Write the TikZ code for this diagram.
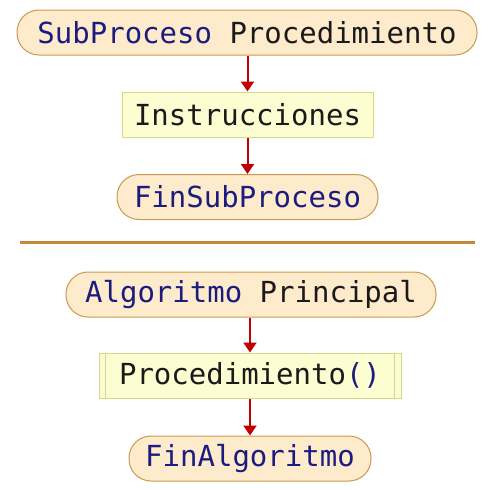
\documentclass[tikz,border=0pt]{standalone}
\usepackage{fontspec}
\setmonofont{DejaVu Sans Mono}
\usetikzlibrary{arrows.meta}
\definecolor{kw}{HTML}{1C1C80}
\definecolor{txt}{HTML}{1A1A1A}
\definecolor{capfill}{HTML}{FDEBCB}
\definecolor{capdraw}{HTML}{C99A52}
\definecolor{boxfill}{HTML}{FDFDD2}
\definecolor{boxdraw}{HTML}{D6D68E}
\definecolor{arr}{HTML}{C00000}
\definecolor{sep}{HTML}{C48A3A}
\tikzset{
  x=1pt,y=1pt,
  capsule/.style={draw=capdraw, fill=capfill, line width=1pt, rounded corners=22pt,
    minimum height=45pt, inner sep=0pt, font=\ttfamily\fontsize{29}{32}\selectfont, text=txt},
  instbox/.style={draw=boxdraw, fill=boxfill, line width=1pt,
    minimum height=45pt, inner sep=0pt, font=\ttfamily\fontsize{29}{32}\selectfont, text=txt},
  flow/.style={draw=arr, line width=2pt, -{Triangle[width=13pt,length=10pt]}},
}
\begin{document}
\begin{tikzpicture}
\useasboundingbox (0,0) rectangle (491,-490);
\node[capsule, minimum width=460pt] (sub) at (247,-32.5) {\textcolor{kw}{SubProceso} Procedimiento};
\node[instbox, minimum width=251pt] (ins) at (247.5,-114.5) {Instrucciones};
\node[capsule, minimum width=261pt] (finsub) at (247.5,-197) {\textcolor{kw}{FinSubProceso}};
\draw[flow] (sub.south -| ins.north) -- (ins.north);
\draw[flow] (ins.south) -- (finsub.north -| ins.south);
\coordinate (sl) at (20,-242.5);
\coordinate (sr) at (475,-242.5);
\draw[sep, line width=2.5pt] (sl) -- (sr);
\node[capsule, minimum width=370pt] (alg) at (251,-294.5) {\textcolor{kw}{Algoritmo} Principal};
\node[instbox, minimum width=302pt] (call) at (250,-375.5) {Procedimiento\textcolor{kw}{()}};
\draw[boxdraw, line width=1pt] ([xshift=7pt]call.north west) -- ([xshift=7pt]call.south west);
\draw[boxdraw, line width=1pt] ([xshift=-7pt]call.north east) -- ([xshift=-7pt]call.south east);
\node[capsule, minimum width=242pt] (finalg) at (250,-458.5) {\textcolor{kw}{FinAlgoritmo}};
\draw[flow] (alg.south -| call.north) -- (call.north);
\draw[flow] (call.south) -- (finalg.north);
\end{tikzpicture}
\end{document}
